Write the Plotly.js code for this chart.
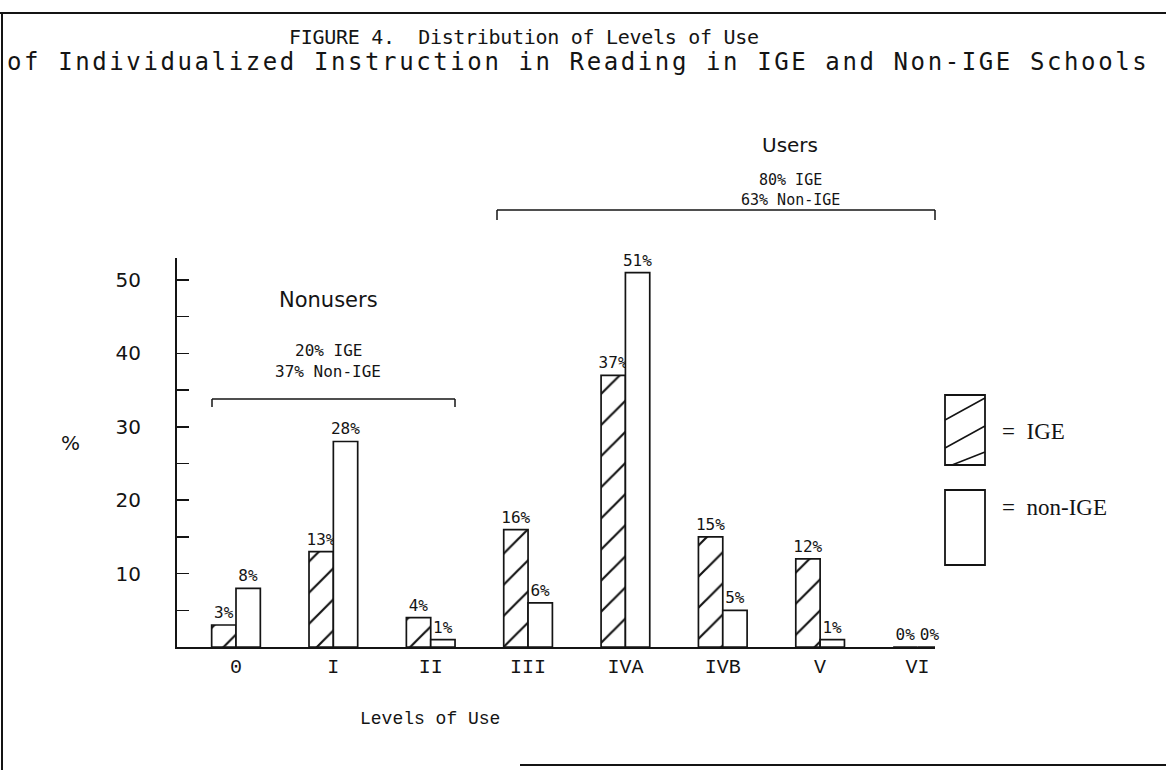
<!DOCTYPE html>
<html>
<head>
<meta charset="utf-8">
<script src="https://cdn.plot.ly/plotly-3.0.1.min.js"></script>
<style>
  html, body { margin: 0; padding: 0; background: #fff; }
  #chart { width: 1166px; height: 770px; }
</style>
</head>
<body>
<div id="chart"></div>
<script>
// ---- data ----
const levels = ['0', 'I', 'II', 'III', 'IVA', 'IVB', 'V', 'VI'];
const levelTickText = ['0', 'I', 'II', 'III', 'IVA', 'IVB', 'V', 'VI'];
const igeValues = [3, 13, 4, 16, 37, 15, 12, 0];
const nonIgeValues = [8, 28, 1, 6, 51, 5, 1, 0];
const igeLabels = ['3%', '13%', '4%', '16%', '37%', '15%', '12%', '0%'];
const nonIgeLabels = ['8%', '28%', '1%', '6%', '51%', '5%', '1%', '0%'];
const yTickVals = [5, 10, 15, 20, 25, 30, 35, 40, 45, 50];
const yTickText = ['', '10', '', '20', '', '30', '', '40', '', '50'];
const titleLine1 = 'FIGURE 4.  Distribution of Levels of Use';
const titleLine2 = 'of Individualized Instruction in Reading in IGE and Non-IGE Schools';
const usersText = ['Users', '80% IGE', '63% Non-IGE'];
const nonusersText = ['Nonusers', '20% IGE', '37% Non-IGE'];
const legendText = ['=  IGE', '=  non-IGE'];
const xAxisTitle = 'Levels of Use';
const yAxisTitle = '%';

// ---- layout geometry (pixels) ----
const W = 1166, H = 770;
const M = { l: 177, r: 231, t: 258, b: 123 };
const PW = W - M.l - M.r, PH = H - M.t - M.b;
const px = x => (x - M.l) / PW;
const py = y => (H - M.b - y) / PH;

const ink = '#141414';
const mono = 'DejaVu Sans Mono, monospace';
const sans = 'DejaVu Sans, sans-serif';
const serifMono = 'Liberation Mono, monospace';
const serif = 'Liberation Serif, serif';

const traces = [
  {
    type: 'bar', name: 'IGE', x: levels, y: igeValues,
    text: igeLabels, textposition: 'outside', cliponaxis: false, constraintext: 'none',
    textfont: { family: mono, size: 16, color: ink },
    marker: {
      color: 'white',
      line: { color: ink, width: 1.7 },
      pattern: { shape: '/', fgcolor: ink, fgopacity: 1, bgcolor: 'white', size: 22, solidity: 0.1, fillmode: 'overlay' }
    },
    hoverinfo: 'x+y'
  },
  {
    type: 'bar', name: 'non-IGE', x: levels, y: nonIgeValues,
    text: nonIgeLabels, textposition: 'outside', cliponaxis: false, constraintext: 'none',
    textfont: { family: mono, size: 16, color: ink },
    marker: { color: 'white', line: { color: ink, width: 1.7 } },
    hoverinfo: 'x+y'
  }
];

function txt(text, x, y, size, family, xanchor) {
  return {
    text: text, xref: 'paper', yref: 'paper', x: px(x), y: py(y),
    xanchor: xanchor || 'center', yanchor: 'middle', showarrow: false,
    align: xanchor === 'left' ? 'left' : 'center',
    font: { family: family, size: size, color: ink }
  };
}

const annotations = [
  txt(titleLine1, 287, 37, 20, mono, 'left'),
  txt(titleLine2, 5, 62, 24, mono, 'left'),
  txt(usersText[0], 790, 145, 20, sans),
  txt(usersText[1], 790, 180, 15, mono),
  txt(usersText[2], 790, 200, 15, mono),
  txt(nonusersText[0], 328, 300, 21, sans),
  txt(nonusersText[1], 328, 350, 16, mono),
  txt(nonusersText[2], 328, 371, 16, mono),
  txt(yAxisTitle, 70, 443, 20, sans),
  txt(xAxisTitle, 430, 719, 18, serifMono),
  txt(legendText[0], 1000, 431, 23, serif, 'left'),
  txt(legendText[1], 1000, 507, 23, serif, 'left')
];
// per-annotation letter spacing (px) to match the typewriter pitch
const letterSpacing = { 0: -0.3, 1: 2.6 };

function seg(x0, y0, x1, y1, w) {
  return { type: 'line', xref: 'paper', yref: 'paper', x0: px(x0), y0: py(y0), x1: px(x1), y1: py(y1),
           line: { color: ink, width: w || 1.5 } };
}
function box(x0, y0, x1, y1) {
  return { type: 'rect', xref: 'paper', yref: 'paper', x0: px(x0), y0: py(y0), x1: px(x1), y1: py(y1),
           line: { color: ink, width: 1.8 }, fillcolor: 'rgba(0,0,0,0)' };
}

const shapes = [
  // page frame
  seg(0, 13, W, 13, 2), seg(2, 13, 2, H, 2), seg(520, 765, W, 765, 2),
  // users bracket
  seg(497, 210, 935, 210), seg(497, 210, 497, 220), seg(935, 210, 935, 220),
  // nonusers bracket
  seg(212, 399, 455, 399), seg(212, 399, 212, 407), seg(455, 399, 455, 407),
  // legend boxes
  box(945, 395, 985, 465),
  seg(945, 420, 985, 398), seg(945, 448, 985, 426), seg(952, 465, 985, 452),
  box(945, 490, 985, 565)
];

const layout = {
  width: W, height: H,
  margin: M,
  paper_bgcolor: 'white', plot_bgcolor: 'white',
  showlegend: false,
  barmode: 'group', bargap: 0.5, bargroupgap: 0,
  font: { family: sans, color: ink },
  xaxis: {
    type: 'category', range: [-0.606, 7.18],
    tickvals: levels, ticktext: levelTickText,
    showline: true, linecolor: ink, linewidth: 2, ticks: '',
    showgrid: false, zeroline: false,
    tickfont: { family: serifMono, size: 20, color: ink },
    ticklabelstandoff: 0
  },
  yaxis: {
    range: [0, 53],
    tickvals: yTickVals, ticktext: yTickText,
    showline: true, linecolor: ink, linewidth: 2,
    ticks: 'inside', ticklen: 12, tickwidth: 1.5, tickcolor: ink,
    showgrid: false, zeroline: false,
    tickfont: { family: sans, size: 20, color: ink },
    ticklabelstandoff: 30
  },
  annotations: annotations,
  shapes: shapes
};

Plotly.newPlot('chart', traces, layout, { staticPlot: true, displayModeBar: false }).then(gd => {
  Object.keys(letterSpacing).forEach(i => {
    const t = gd.querySelector('.annotation[data-index="' + i + '"] .annotation-text');
    if (t) t.style.letterSpacing = letterSpacing[i] + 'px';
  });
});
</script>
</body>
</html>
